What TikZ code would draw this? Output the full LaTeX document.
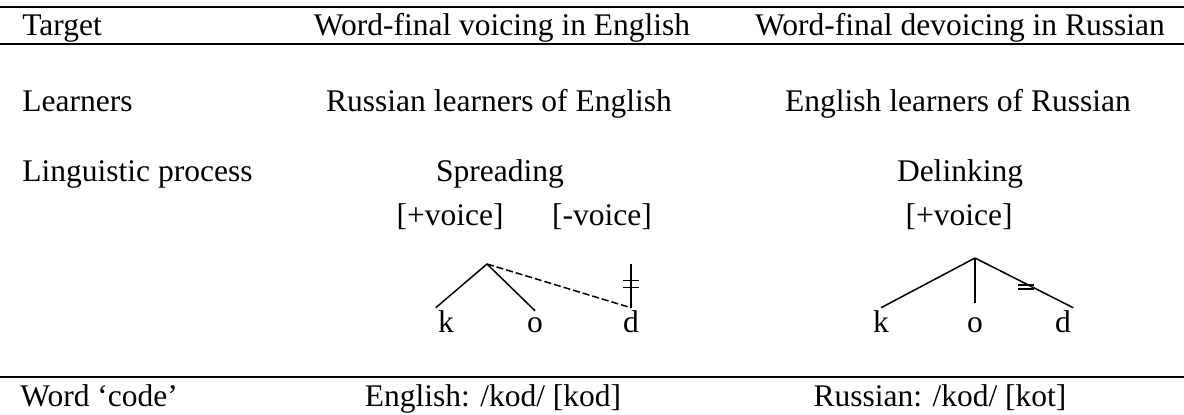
\documentclass[tikz,border=0pt]{standalone}
\usepackage{fontspec}
\setmainfont{Liberation Serif}
\tikzset{
  lbl/.style={inner sep=0pt, anchor=base},
  seg/.style={inner sep=1pt, anchor=base},
  rule/.style={line width=1.1pt},
  link/.style={line width=0.75pt},
  spread/.style={line width=0.75pt, dash pattern=on 3.5pt off 1.5pt},
}

\begin{document}
\begin{tikzpicture}[x=0.5pt,y=-0.5pt,font=\fontsize{15.75}{19}\selectfont]
\useasboundingbox (0,0) rectangle (1184,414);

%%% Rules of the table
\draw[rule] (0,7) -- (1184,7);
\draw[rule] (0,44) -- (1184,44);
\draw[rule] (0,377) -- (1184,377);

%%% Header row
\node[lbl,anchor=base west] (target) at (22,35) {Target};
\node[lbl] (headEng) at (502,35) {Word-final voicing in English};
\node[lbl] (headRus) at (960,35) {Word-final devoicing in Russian};

%%% Learners and process
\node[lbl,anchor=base west] (learners) at (22,111) {Learners};
\node[lbl] (lrnEng) at (499,111) {Russian learners of English};
\node[lbl] (lrnRus) at (958,111) {English learners of Russian};
\node[lbl,anchor=base west] (process) at (22,181) {Linguistic process};
\node[lbl] (spreading) at (500,181) {Spreading};
\node[lbl] (delinking) at (960,181) {Delinking};
\node[lbl] (plusL) at (450,225) {[+voice]};
\node[lbl] (minusL) at (602,225) {[-voice]};
\node[lbl] (plusR) at (959,225) {[+voice]};

%%% Spreading tree
\node[seg] (kL) at (446,332) {k};
\node[seg] (oL) at (535,332) {o};
\node[seg] (dL) at (631,332) {d};
\coordinate (topL) at (487,264);
\coordinate (tierL) at (dL.north |- topL);
\draw[link] (topL) -- (kL.north west);
\draw[link] (topL) -- ([yshift=2pt]oL.north);
\draw[spread] (topL) -- (dL.north);
\draw[link] (tierL) -- (dL.north);
\coordinate (cutL) at (631,284);
\draw[link] ([shift={(-8,-3.5)}]cutL) -- ++(16,0);
\draw[link] ([shift={(-8,3.5)}]cutL) -- ++(16,0);

%%% Delinking tree
\node[seg] (kR) at (881,332) {k};
\node[seg] (oR) at (975,332) {o};
\node[seg] (dR) at (1063,332) {d};
\coordinate (topR) at (oR.north |- 0,258);
\draw[link] (topR) -- (kR.north);
\draw[link] (topR) -- ([yshift=6pt]oR.north);
\draw[link] (topR) -- (dR.north east);
\coordinate (cutR) at (1026,287);
\draw[link] ([shift={(-8,-2)}]cutR) -- ++(16,0);
\draw[link] ([shift={(-8,2)}]cutR) -- ++(16,0);

%%% Bottom row
\node[lbl,anchor=base west] (word) at (20,406) {Word `code'};
\node[lbl] (codeEng) at (493,406) {English: /kod/ [kod]};
\node[lbl] (codeRus) at (940,406) {Russian: /kod/ [kot]};
\end{tikzpicture}
\end{document}
